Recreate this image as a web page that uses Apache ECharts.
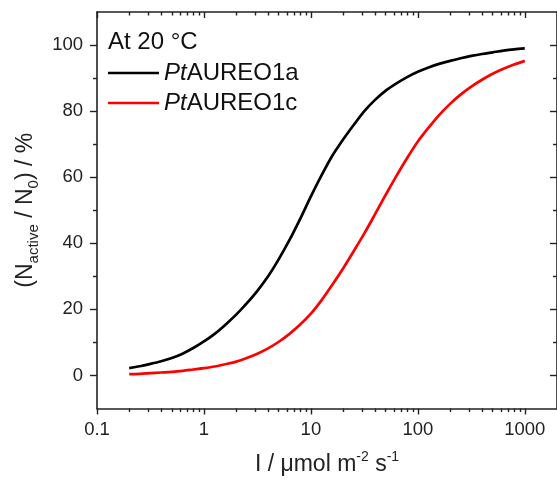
<!DOCTYPE html>
<html>
<head>
<meta charset="utf-8">
<script src="https://cdn.jsdelivr.net/npm/echarts@6/dist/echarts.min.js"></script>
<style>
  html, body { margin: 0; padding: 0; background: #fff; }
  #chart { width: 557px; height: 481px; }
</style>
</head>
<body>
<div id="chart"></div>
<script>
// light intensity I (umol m-2 s-1), read every 0.1 decade
var intensity = [0.2, 0.251, 0.316, 0.398, 0.501, 0.631, 0.794,
                 1, 1.26, 1.58, 2, 2.51, 3.16, 3.98, 5.01, 6.31, 7.94,
                 10, 12.6, 15.8, 20, 25.1, 31.6, 39.8, 50.1, 63.1, 79.4,
                 100, 126, 158, 200, 251, 316, 398, 501, 631, 794, 1000];
// (N_active / N_0) in %
var aureo1a = [2.2, 2.8, 3.5, 4.3, 5.3, 6.6, 8.3,
               10.3, 12.6, 15.3, 18.4, 21.8, 25.6, 30.0, 35.2, 41.0, 47.4,
               54.2, 60.6, 66.4, 71.4, 75.8, 80.0, 83.4, 86.2, 88.4, 90.3,
               91.9, 93.2, 94.3, 95.2, 96.0, 96.7, 97.3, 97.8, 98.3, 98.7, 99.0];
var aureo1c = [0.4, 0.5, 0.7, 0.9, 1.1, 1.4, 1.8,
               2.2, 2.7, 3.4, 4.2, 5.3, 6.6, 8.2, 10.2, 12.6, 15.4,
               18.7, 22.8, 27.4, 32.4, 37.6, 43.0, 48.8, 54.7, 60.4, 65.8,
               70.8, 75.0, 78.8, 82.2, 85.0, 87.4, 89.5, 91.3, 92.8, 94.1, 95.2];

var xMajor = [0.1, 1, 10, 100, 1000];
var xMinor = [0.2, 0.3, 0.4, 0.5, 0.6, 0.7, 0.8, 0.9, 2, 3, 4, 5, 6, 7, 8, 9,
              20, 30, 40, 50, 60, 70, 80, 90, 200, 300, 400, 500, 600, 700, 800, 900];
var yMajor = [0, 20, 40, 60, 80, 100];
var yMinor = [10, 30, 50, 70, 90];

var font = 'Liberation Sans, Arial, sans-serif';

function pairs(xs, ys) {
    var out = [];
    for (var i = 0; i < xs.length; i++) out.push([xs[i], ys[i]]);
    return out;
}

var myChart = echarts.init(document.getElementById('chart'));

function xAx(pos, ticks, len, inside, showLine, showLabel) {
    return {
        type: 'log', logBase: 10, min: 0.1, max: 2000, position: pos,
        axisLine: { show: showLine, onZero: false, lineStyle: { color: '#222', width: 1.6 } },
        axisTick: { show: true, customValues: ticks, length: len, inside: inside,
                    lineStyle: { color: '#222', width: 1.4 } },
        axisLabel: { show: showLabel, customValues: ticks, margin: 12, color: '#222',
                     fontSize: 18.5, fontFamily: font,
                     formatter: function (v) { return String(+v.toPrecision(3)); } },
        splitLine: { show: false }, minorTick: { show: false }
    };
}
function yAx(pos, ticks, len, inside, showLine, showLabel) {
    return {
        type: 'value', min: -10, max: 110, position: pos,
        axisLine: { show: showLine, onZero: false, lineStyle: { color: '#222', width: 1.6 } },
        axisTick: { show: true, customValues: ticks, length: len, inside: inside,
                    lineStyle: { color: '#222', width: 1.4 } },
        axisLabel: { show: showLabel, customValues: ticks, margin: 14, color: '#222',
                     fontSize: 18.5, fontFamily: font },
        splitLine: { show: false }
    };
}

var xBottom = xAx('bottom', xMajor, 6, false, true, true);
xBottom.name = '{a|I / μmol m}{s|-2}{a| s}{s|-1}';
xBottom.nameLocation = 'middle';
xBottom.nameGap = 42;
xBottom.nameTextStyle = {
    rich: {
        a: { fontSize: 23, fontFamily: font, color: '#222', lineHeight: 28, verticalAlign: 'middle' },
        s: { fontSize: 14, fontFamily: font, color: '#222', lineHeight: 14, verticalAlign: 'top' }
    }
};

var yLeft = yAx('left', yMajor, 7, false, true, true);
yLeft.name = '{a|(N}{s|active}{a| / N}{s|0}{a|) / %}';
yLeft.nameLocation = 'middle';
yLeft.nameGap = 53;
yLeft.nameRotate = 90;
yLeft.nameTextStyle = {
    rich: {
        a: { fontSize: 23, fontFamily: font, color: '#222', lineHeight: 32, verticalAlign: 'middle' },
        s: { fontSize: 15, fontFamily: font, color: '#222', lineHeight: 15, verticalAlign: 'bottom' }
    }
};

var option = {
    animation: false,
    backgroundColor: '#fff',
    grid: { left: 97, top: 12, width: 461, height: 400, containLabel: false },
    title: {
        text: 'At 20 °C', left: 103, top: 25,
        textStyle: { fontSize: 24, fontWeight: 'normal', fontFamily: font, color: '#111' }
    },
    legend: {
        orient: 'vertical', left: 108, top: 61, padding: 0,
        itemWidth: 51, itemHeight: 2.6, itemGap: 6,
        icon: 'rect',
        data: ['PtAUREO1a', 'PtAUREO1c'],
        formatter: function (n) { return '{i|Pt}{r|' + n.slice(2) + '}'; },
        textStyle: {
            fontFamily: font, fontSize: 24, color: '#111',
            rich: {
                i: { fontStyle: 'italic', fontSize: 24, fontFamily: font, color: '#111', lineHeight: 28 },
                r: { fontSize: 24, fontFamily: font, color: '#111', lineHeight: 28 }
            }
        }
    },
    xAxis: [
        xBottom,
        xAx('bottom', xMinor, 3.5, false, false, false),
        xAx('top', xMajor, 6, true, true, false),
        xAx('top', xMinor, 3.5, true, false, false)
    ],
    yAxis: [
        yLeft,
        yAx('left', yMinor, 4, false, false, false),
        yAx('right', yMajor, 7, true, true, false),
        yAx('right', yMinor, 4, true, false, false)
    ],
    series: [
        {
            name: 'PtAUREO1a', type: 'line', smooth: 0.3, showSymbol: false,
            xAxisIndex: 0, yAxisIndex: 0,
            lineStyle: { color: '#000', width: 2.7 }, itemStyle: { color: '#000' },
            data: pairs(intensity, aureo1a)
        },
        {
            name: 'PtAUREO1c', type: 'line', smooth: 0.3, showSymbol: false,
            xAxisIndex: 0, yAxisIndex: 0,
            lineStyle: { color: '#ff0000', width: 2.7 }, itemStyle: { color: '#ff0000' },
            data: pairs(intensity, aureo1c)
        }
    ]
};

myChart.setOption(option);
</script>
</body>
</html>
